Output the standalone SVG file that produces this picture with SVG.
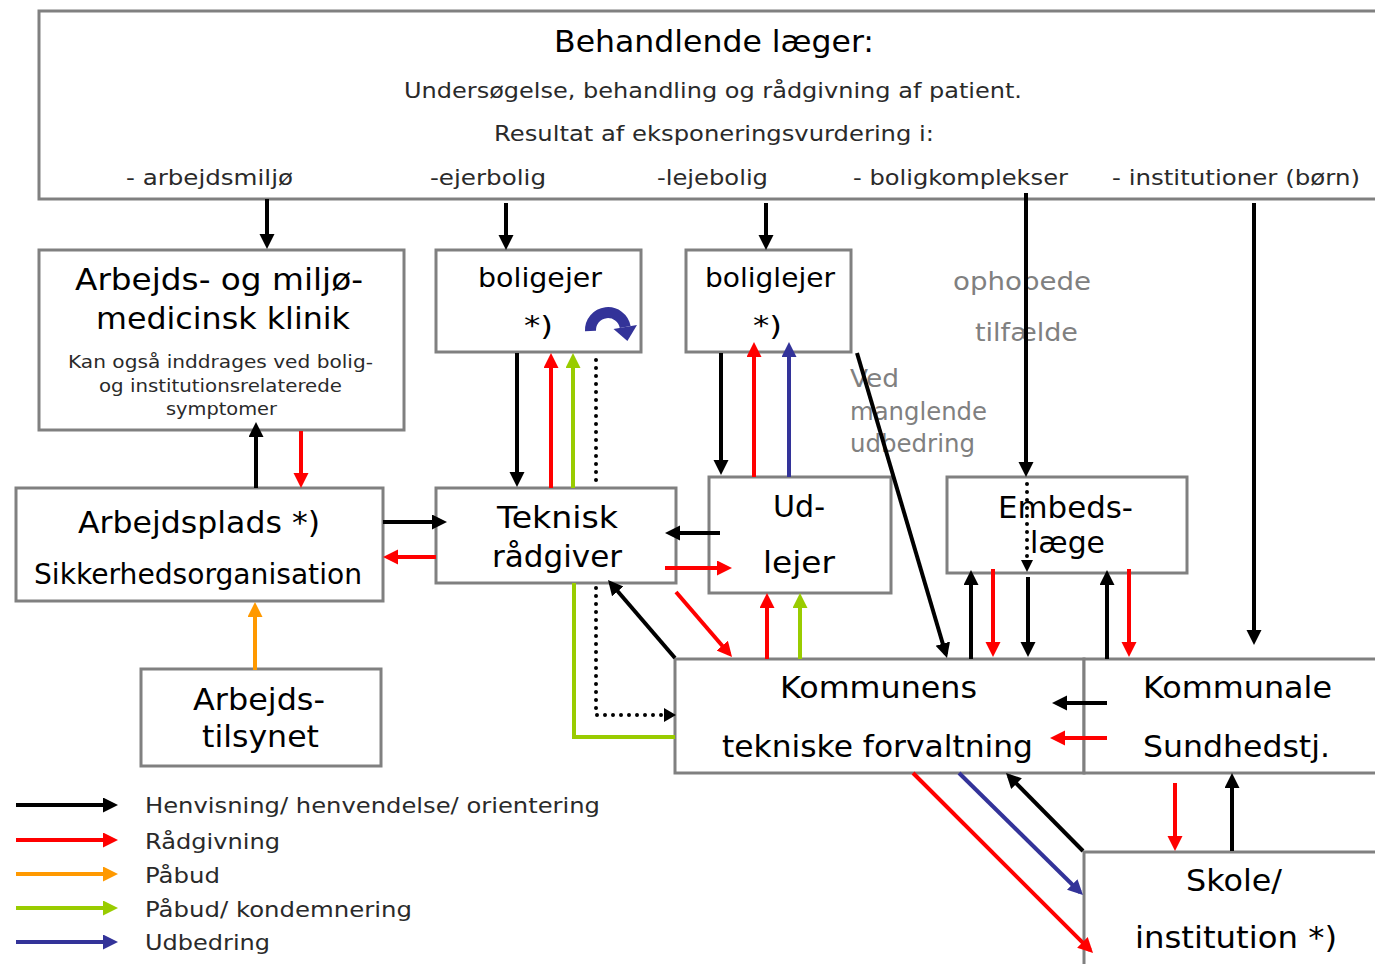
<svg xmlns="http://www.w3.org/2000/svg" width="1375" height="964" viewBox="0 0 1375 964">
<style>
.box{fill:#fff;stroke:#808080;stroke-width:3}
text{font-family:"DejaVu Sans","Liberation Sans",sans-serif;fill:#000}
.t31{font-size:31px}.t30{font-size:30px}.t28{font-size:28px}.t27{font-size:27px}
.t22{font-size:22px;fill:#2a2a2a}.t17{font-size:17px;fill:#2a2a2a}
.lbl{font-size:25px;fill:#808080}.lbl24{font-size:24px;fill:#808080}
.c{fill:none;stroke-width:4}
.k{stroke:#000}.r{stroke:#ff0000}.g{stroke:#99cc00}.o{stroke:#ff9900}.b{stroke:#333399}
.dot{fill:none;stroke:#000;stroke-width:4;stroke-linecap:round;stroke-dasharray:0 8}
</style>
<defs>
<marker id="hk" markerUnits="userSpaceOnUse" markerWidth="16" markerHeight="16" refX="11" refY="7.5" orient="auto"><path d="M0,0 L15,7.5 L0,15 z" fill="#000"/></marker>
<marker id="hr" markerUnits="userSpaceOnUse" markerWidth="16" markerHeight="16" refX="11" refY="7.5" orient="auto"><path d="M0,0 L15,7.5 L0,15 z" fill="#ff0000"/></marker>
<marker id="hg" markerUnits="userSpaceOnUse" markerWidth="16" markerHeight="16" refX="11" refY="7.5" orient="auto"><path d="M0,0 L15,7.5 L0,15 z" fill="#99cc00"/></marker>
<marker id="ho" markerUnits="userSpaceOnUse" markerWidth="16" markerHeight="16" refX="11" refY="7.5" orient="auto"><path d="M0,0 L15,7.5 L0,15 z" fill="#ff9900"/></marker>
<marker id="hb" markerUnits="userSpaceOnUse" markerWidth="16" markerHeight="16" refX="11" refY="7.5" orient="auto"><path d="M0,0 L15,7.5 L0,15 z" fill="#333399"/></marker>
</defs>
<rect width="1375" height="964" fill="#fff"/>

<g id="behandlende-laeger">
<rect class="box" x="39" y="11" width="1360" height="188"/>
<text class="t31" x="554" y="52" textLength="320" lengthAdjust="spacingAndGlyphs">Behandlende læger:</text>
<text class="t22" x="404" y="98" textLength="618" lengthAdjust="spacingAndGlyphs">Undersøgelse, behandling og rådgivning af patient.</text>
<text class="t22" x="494" y="141" textLength="440" lengthAdjust="spacingAndGlyphs">Resultat af eksponeringsvurdering i:</text>
<text class="t22" x="126" y="185" textLength="167" lengthAdjust="spacingAndGlyphs">- arbejdsmiljø</text>
<text class="t22" x="430" y="185" textLength="116" lengthAdjust="spacingAndGlyphs">-ejerbolig</text>
<text class="t22" x="657" y="185" textLength="111" lengthAdjust="spacingAndGlyphs">-lejebolig</text>
<text class="t22" x="853" y="185" textLength="215" lengthAdjust="spacingAndGlyphs">- boligkomplekser</text>
<text class="t22" x="1112" y="185" textLength="248" lengthAdjust="spacingAndGlyphs">- institutioner (børn)</text>
</g>

<g id="klinik">
<rect class="box" x="39" y="250" width="365" height="180"/>
<text class="t30" x="75" y="290" textLength="288" lengthAdjust="spacingAndGlyphs">Arbejds- og miljø-</text>
<text class="t30" x="96" y="329" textLength="254" lengthAdjust="spacingAndGlyphs">medicinsk klinik</text>
<text class="t17" x="68" y="368" textLength="305" lengthAdjust="spacingAndGlyphs">Kan også inddrages ved bolig-</text>
<text class="t17" x="99" y="392" textLength="243" lengthAdjust="spacingAndGlyphs">og institutionsrelaterede</text>
<text class="t17" x="166" y="415" textLength="111" lengthAdjust="spacingAndGlyphs">symptomer</text>
</g>

<g id="boligejer">
<rect class="box" x="436" y="250" width="205" height="102"/>
<text class="t27" x="478" y="287" textLength="124" lengthAdjust="spacingAndGlyphs">boligejer</text>
<text class="t27" x="524" y="335" textLength="29" lengthAdjust="spacingAndGlyphs">*)</text>
<path d="M590.5,331 A17.5,17.5 0 0 1 625.2,327" fill="none" stroke="#333399" stroke-width="11"/>
<path d="M613.5,329 L637,325 L627.4,341 z" fill="#333399"/>
</g>

<g id="boliglejer">
<rect class="box" x="686" y="250" width="165" height="102"/>
<text class="t27" x="705" y="287" textLength="130" lengthAdjust="spacingAndGlyphs">boliglejer</text>
<text class="t27" x="753" y="335" textLength="29" lengthAdjust="spacingAndGlyphs">*)</text>
</g>

<g id="arbejdsplads">
<rect class="box" x="16" y="488" width="367" height="113"/>
<text class="t31" x="78" y="533" textLength="242" lengthAdjust="spacingAndGlyphs">Arbejdsplads *)</text>
<text class="t28" x="34" y="584" textLength="328" lengthAdjust="spacingAndGlyphs">Sikkerhedsorganisation</text>
</g>

<g id="teknisk-raadgiver">
<rect class="box" x="436" y="488" width="240" height="95"/>
<text class="t31" x="497" y="528" textLength="121" lengthAdjust="spacingAndGlyphs">Teknisk</text>
<text class="t31" x="492" y="567" textLength="130" lengthAdjust="spacingAndGlyphs">rådgiver</text>
</g>

<g id="udlejer">
<rect class="box" x="709" y="477" width="182" height="116"/>
<text class="t31" x="773" y="517" textLength="52" lengthAdjust="spacingAndGlyphs">Ud-</text>
<text class="t31" x="763" y="573" textLength="72" lengthAdjust="spacingAndGlyphs">lejer</text>
</g>

<g id="embedslaege">
<rect class="box" x="947" y="477" width="240" height="96"/>
<text class="t30" x="998" y="518" textLength="135" lengthAdjust="spacingAndGlyphs">Embeds-</text>
<text class="t30" x="1030" y="553" textLength="75" lengthAdjust="spacingAndGlyphs">læge</text>
</g>

<g id="arbejdstilsynet">
<rect class="box" x="141" y="669" width="240" height="97"/>
<text class="t30" x="193" y="710" textLength="132" lengthAdjust="spacingAndGlyphs">Arbejds-</text>
<text class="t30" x="202" y="747" textLength="117" lengthAdjust="spacingAndGlyphs">tilsynet</text>
</g>

<g id="kommunens-tekniske-forvaltning">
<rect class="box" x="675" y="659" width="409" height="114"/>
<text class="t30" x="780" y="698" textLength="197" lengthAdjust="spacingAndGlyphs">Kommunens</text>
<text class="t30" x="722" y="757" textLength="311" lengthAdjust="spacingAndGlyphs">tekniske forvaltning</text>
</g>

<g id="kommunale-sundhedstj">
<rect class="box" x="1084" y="659" width="320" height="114"/>
<text class="t30" x="1143" y="698" textLength="189" lengthAdjust="spacingAndGlyphs">Kommunale</text>
<text class="t30" x="1143" y="757" textLength="187" lengthAdjust="spacingAndGlyphs">Sundhedstj.</text>
</g>

<g id="skole-institution">
<rect class="box" x="1084" y="852" width="320" height="130"/>
<text class="t30" x="1186" y="891" textLength="96" lengthAdjust="spacingAndGlyphs">Skole/</text>
<text class="t30" x="1135" y="948" textLength="202" lengthAdjust="spacingAndGlyphs">institution *)</text>
</g>

<g id="labels">
<text class="lbl" x="953" y="290" textLength="138" lengthAdjust="spacingAndGlyphs">ophobede</text>
<text class="lbl" x="975" y="341" textLength="103" lengthAdjust="spacingAndGlyphs">tilfælde</text>
<text class="lbl24" x="850" y="387" textLength="49" lengthAdjust="spacingAndGlyphs">Ved</text>
<text class="lbl24" x="850" y="420" textLength="137" lengthAdjust="spacingAndGlyphs">manglende</text>
<text class="lbl24" x="850" y="452" textLength="125" lengthAdjust="spacingAndGlyphs">udbedring</text>
</g>

<g id="connectors">
<path class="c k" d="M267,199 V245" marker-end="url(#hk)"/>
<path class="c k" d="M506,203 V246" marker-end="url(#hk)"/>
<path class="c k" d="M766,203 V246" marker-end="url(#hk)"/>
<path class="c k" d="M1026,193 V473" marker-end="url(#hk)"/>
<path class="c k" d="M1254,203 V641" marker-end="url(#hk)"/>
<path class="c k" d="M256,488 V426" marker-end="url(#hk)"/>
<path class="c k" d="M383,522 H443" marker-end="url(#hk)"/>
<path class="c k" d="M517,353 V483" marker-end="url(#hk)"/>
<path class="c k" d="M721,353 V471" marker-end="url(#hk)"/>
<path class="c k" d="M720,533 H669" marker-end="url(#hk)"/>
<path class="c k" d="M857,353 L945.9,654.2" marker-end="url(#hk)"/>
<path class="c k" d="M675,658 L610.6,583" marker-end="url(#hk)"/>
<path class="c k" d="M971,659 V574" marker-end="url(#hk)"/>
<path class="c k" d="M1028,577 V653" marker-end="url(#hk)"/>
<path class="c k" d="M1107,659 V574" marker-end="url(#hk)"/>
<path class="c k" d="M1107,703 H1056" marker-end="url(#hk)"/>
<path class="c k" d="M1083,851 L1008.8,775.8" marker-end="url(#hk)"/>
<path class="c k" d="M1232,851 V777" marker-end="url(#hk)"/>
<path class="dot" d="M1027,484 V560"/>
<path d="M1021,560 L1033,560 L1027,572 z" fill="#000"/>
<path class="dot" d="M596,360 V484"/>
<path class="dot" d="M596,588 V715 H664"/>
<path d="M664,708 L676,715 L664,722 z" fill="#000"/>

<path class="c r" d="M301,431 V484" marker-end="url(#hr)"/>
<path class="c r" d="M436,557 H387" marker-end="url(#hr)"/>
<path class="c r" d="M551,488 V357" marker-end="url(#hr)"/>
<path class="c r" d="M754,477 V346" marker-end="url(#hr)"/>
<path class="c r" d="M665,568 H728" marker-end="url(#hr)"/>
<path class="c r" d="M676,592 L729.4,654" marker-end="url(#hr)"/>
<path class="c r" d="M767,659 V597" marker-end="url(#hr)"/>
<path class="c r" d="M993,569 V653" marker-end="url(#hr)"/>
<path class="c r" d="M1129,569 V653" marker-end="url(#hr)"/>
<path class="c r" d="M1107,738 H1054" marker-end="url(#hr)"/>
<path class="c r" d="M1175,783 V847" marker-end="url(#hr)"/>
<path class="c r" d="M913,773 L1090.2,950.2" marker-end="url(#hr)"/>

<path class="c g" d="M573,488 V357" marker-end="url(#hg)"/>
<path class="c g" d="M800,659 V597" marker-end="url(#hg)"/>
<path class="c g" d="M574,583 V737 H675"/>

<path class="c b" d="M789,477 V346" marker-end="url(#hb)"/>
<path class="c b" d="M959,773 L1080.1,892.2" marker-end="url(#hb)"/>

<path class="c o" d="M255,670 V606" marker-end="url(#ho)"/>
</g>

<g id="legend">
<path class="c k" d="M16,805 H114" marker-end="url(#hk)"/>
<path class="c r" d="M16,840 H114" marker-end="url(#hr)"/>
<path class="c o" d="M16,874 H114" marker-end="url(#ho)"/>
<path class="c g" d="M16,908 H114" marker-end="url(#hg)"/>
<path class="c b" d="M16,942 H114" marker-end="url(#hb)"/>
<text class="t22" x="145" y="813" textLength="455" lengthAdjust="spacingAndGlyphs">Henvisning/ henvendelse/ orientering</text>
<text class="t22" x="145" y="849" textLength="135" lengthAdjust="spacingAndGlyphs">Rådgivning</text>
<text class="t22" x="145" y="883" textLength="75" lengthAdjust="spacingAndGlyphs">Påbud</text>
<text class="t22" x="145" y="917" textLength="267" lengthAdjust="spacingAndGlyphs">Påbud/ kondemnering</text>
<text class="t22" x="145" y="950" textLength="125" lengthAdjust="spacingAndGlyphs">Udbedring</text>
</g>
</svg>
